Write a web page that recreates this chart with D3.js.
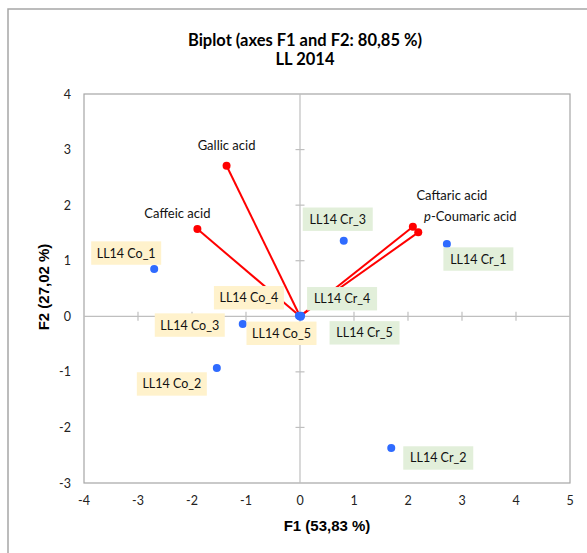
<!DOCTYPE html>
<html><head><meta charset="utf-8">
<script src="https://cdn.jsdelivr.net/npm/d3@7"></script>
<style>body{margin:0;background:#fff}svg{display:block}</style>
</head><body>
<script>
// ---- data ----
const obsNames = ["LL14 Co_1","LL14 Co_2","LL14 Co_3","LL14 Co_4","LL14 Co_5","LL14 Cr_1","LL14 Cr_2","LL14 Cr_3","LL14 Cr_4","LL14 Cr_5"];
const obsGroup = ["Co","Co","Co","Co","Co","Cr","Cr","Cr","Cr","Cr"];
const obsF1 = [-2.70,-1.54,-1.06,-0.02,0.00,2.72,1.69,0.81,0.02,0.01];
const obsF2 = [0.85,-0.93,-0.14,0.01,0.00,1.30,-2.37,1.36,0.01,-0.01];
const varNames = ["Gallic acid","Caffeic acid","Caftaric acid","p-Coumaric acid"];
const varF1 = [-1.36,-1.90,2.09,2.19];
const varF2 = [2.71,1.57,1.61,1.51];
const xTicks = [-4,-3,-2,-1,0,1,2,3,4,5];
const yTicks = [-3,-2,-1,0,1,2,3,4];
const title1 = "Biplot (axes F1 and F2: 80,85 %)";
const title2 = "LL 2014";
const xTitle = "F1 (53,83 %)";
const yTitle = "F2 (27,02 %)";

// ---- layout (label offsets in px, not data) ----
const obsLabelOffset = [[-28,-16],[-45,16],[-53,1],[-50,-18],[-18.5,17],[31.5,15],[47,10],[-6,-21.5],[41,-17],[64,16]];
const varLabelOffset = [[0,-20],[-20,-16],[39,-31],[52,-16]];

const W=587,H=553;
const svg=d3.select("body").append("svg").attr("width",W).attr("height",H);
const x=d3.scaleLinear().domain([-4,5]).range([84,570]);
const y=d3.scaleLinear().domain([-3,4]).range([483,94]);
const font="Lato, 'Open Sans', sans-serif";

// outer frame (chart area, clipped at right/bottom)
svg.append("path").attr("d",`M8,${H} L8,9 L${W},9`).attr("fill","none").attr("stroke","#a6a6a6").attr("stroke-width",1.5);

// titles
svg.append("text").attr("x",305).attr("y",46).attr("text-anchor","middle").attr("font-family",font).attr("font-weight","bold").attr("font-size",16.5).text(title1);
svg.append("text").attr("x",305).attr("y",65).attr("text-anchor","middle").attr("font-family",font).attr("font-weight","bold").attr("font-size",16.5).text(title2);

// plot border
svg.append("rect").attr("x",x(-4)).attr("y",y(4)).attr("width",x(5)-x(-4)).attr("height",y(-3)-y(4)).attr("fill","none").attr("stroke","#a6a6a6").attr("stroke-width",1.2);

// zero axes
const g=svg.append("g");
g.append("line").attr("x1",x(-4)).attr("x2",x(5)).attr("y1",y(0)).attr("y2",y(0)).attr("stroke","#bfbfbf").attr("stroke-width",1.2);
g.append("line").attr("x1",x(0)).attr("x2",x(0)).attr("y1",y(-3)).attr("y2",y(4)).attr("stroke","#bfbfbf").attr("stroke-width",1.2);
// cross ticks
g.selectAll(".xt").data(xTicks.filter(d=>d>-4&&d<5&&d!==0)).join("line")
 .attr("x1",d=>x(d)).attr("x2",d=>x(d)).attr("y1",y(0)-4.5).attr("y2",y(0)+4.5).attr("stroke","#bfbfbf").attr("stroke-width",1.2);
g.selectAll(".yt").data(yTicks.filter(d=>d>-3&&d<4&&d!==0)).join("line")
 .attr("y1",d=>y(d)).attr("y2",d=>y(d)).attr("x1",x(0)-4.5).attr("x2",x(0)+4.5).attr("stroke","#bfbfbf").attr("stroke-width",1.2);

// tick labels
svg.selectAll(".xl").data(xTicks).join("text").attr("x",d=>x(d)).attr("y",505).attr("text-anchor","middle")
 .attr("font-family",font).attr("font-size",12.5).attr("fill","#222").text(d=>d);
svg.selectAll(".yl").data(yTicks).join("text").attr("x",71).attr("y",d=>y(d)+4.5).attr("text-anchor","end")
 .attr("font-family",font).attr("font-size",12.5).attr("fill","#222").text(d=>d);

// axis titles
const axFont="'Liberation Sans', Arial, sans-serif";
svg.append("text").attr("x",327).attr("y",531).attr("text-anchor","middle").attr("font-family",axFont).attr("font-weight","bold").attr("font-size",15).text(xTitle);
svg.append("text").attr("transform","translate(49,287) rotate(-90)").attr("text-anchor","middle").attr("font-family",axFont).attr("font-weight","bold").attr("font-size",15).text(yTitle);

// vectors
const vars=varNames.map((n,i)=>({n,f1:varF1[i],f2:varF2[i],o:varLabelOffset[i]}));
svg.selectAll(".vec").data(vars).join("line").attr("x1",x(0)).attr("y1",y(0)).attr("x2",d=>x(d.f1)).attr("y2",d=>y(d.f2))
 .attr("stroke","#ff0000").attr("stroke-width",2);
svg.selectAll(".vp").data(vars).join("circle").attr("cx",d=>x(d.f1)).attr("cy",d=>y(d.f2)).attr("r",4).attr("fill","#ff0000");

// observations
const obs=obsNames.map((n,i)=>({n,g:obsGroup[i],f1:obsF1[i],f2:obsF2[i],o:obsLabelOffset[i]}));
svg.selectAll(".op").data(obs).join("circle").attr("cx",d=>x(d.f1)).attr("cy",d=>y(d.f2)).attr("r",4).attr("fill","#2f6bff");

// observation labels with boxes
const lg=svg.selectAll(".ol").data(obs).join("g").attr("transform",d=>`translate(${x(d.f1)+d.o[0]},${y(d.f2)+d.o[1]})`);
lg.append("rect").attr("x",-35).attr("y",-11.7).attr("width",70).attr("height",23.4).attr("fill",d=>d.g==="Co"?"#fff2cc":"#e2efda");
lg.append("text").attr("text-anchor","middle").attr("dy","0.36em").attr("font-family",font).attr("font-size",12.5).attr("fill","#111").text(d=>d.n);

// variable labels
svg.selectAll(".vl").data(vars).join("text").attr("x",d=>x(d.f1)+d.o[0]).attr("y",d=>y(d.f2)+d.o[1]).attr("dy","0.36em")
 .attr("text-anchor","middle").attr("font-family",font).attr("font-size",13).attr("fill","#111")
 .each(function(d){
   const t=d3.select(this);
   if(d.n.startsWith("p-")){t.append("tspan").attr("font-style","italic").text("p");t.append("tspan").text(d.n.slice(1));}
   else t.text(d.n);
 });
</script>
</body></html>
